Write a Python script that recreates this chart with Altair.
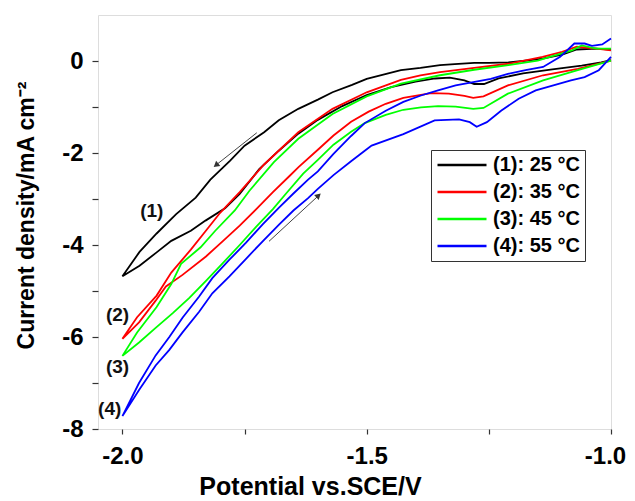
import altair as alt
import pandas as pd

FONT = "Liberation Sans"

series = ["(1): 25 °C", "(2): 35 °C", "(3): 45 °C", "(4): 55 °C"]
colors = ["#000000", "#ff0000", "#00ff00", "#0000ff"]

# (1) 25 °C : scan -1.0 -> -2.0 (upper branch), then back (lower branch)
v1_fwd = [-1.00, -1.03, -1.07, -1.10, -1.14, -1.18, -1.21, -1.25, -1.28, -1.32, -1.35, -1.39, -1.43,
          -1.46, -1.50, -1.53, -1.57, -1.60, -1.64, -1.68, -1.71, -1.75, -1.78, -1.82, -1.85, -1.89,
          -1.93, -1.965, -2.00]
i1_fwd = [0.25, 0.27, 0.25, 0.14, 0.05, 0.00, -0.03, -0.04, -0.04, -0.07, -0.09, -0.15, -0.20,
          -0.28, -0.39, -0.52, -0.68, -0.84, -1.04, -1.29, -1.55, -1.84, -2.17, -2.58, -2.97, -3.33,
          -3.75, -4.15, -4.68]
v1_ret = [-2.00, -1.965, -1.93, -1.90, -1.86, -1.83, -1.79, -1.76, -1.72, -1.68, -1.64, -1.60, -1.55,
          -1.50, -1.45, -1.40, -1.36, -1.33, -1.30, -1.28, -1.26, -1.23, -1.18, -1.12, -1.06, -1.02, -1.00]
i1_ret = [-4.68, -4.45, -4.16, -3.91, -3.69, -3.47, -3.20, -2.89, -2.35, -1.95, -1.58, -1.28, -0.98,
          -0.74, -0.57, -0.45, -0.38, -0.36, -0.42, -0.50, -0.50, -0.38, -0.27, -0.18, -0.10, -0.03, 0.02]

# (2) 35 °C
v2_fwd = [-1.00, -1.03, -1.07, -1.10, -1.14, -1.21, -1.28, -1.35, -1.39, -1.43, -1.50, -1.57, -1.64,
          -1.71, -1.76, -1.80, -1.83, -1.86, -1.90, -1.93, -1.97, -2.00]
i2_fwd = [0.23, 0.27, 0.31, 0.20, 0.09, -0.06, -0.15, -0.24, -0.31, -0.41, -0.68, -1.04, -1.55,
          -2.25, -2.85, -3.30, -3.70, -4.10, -4.60, -5.10, -5.57, -6.04]
v2_ret = [-2.00, -1.966, -1.932, -1.911, -1.877, -1.829, -1.795, -1.760, -1.726, -1.692, -1.658, -1.639,
          -1.60, -1.568, -1.532, -1.496, -1.461, -1.425, -1.368, -1.332, -1.300, -1.282, -1.261, -1.211,
          -1.139, -1.068, -1.00]
i2_ret = [-6.04, -5.68, -5.21, -4.90, -4.65, -4.25, -3.92, -3.58, -3.22, -2.85, -2.50, -2.30,
          -1.93, -1.62, -1.32, -1.10, -0.93, -0.80, -0.70, -0.71, -0.76, -0.80, -0.77, -0.53,
          -0.31, -0.17, 0.01]

# (3) 45 °C
v3_fwd = [-1.00, -1.03, -1.06, -1.08, -1.125, -1.15, -1.21, -1.28, -1.35, -1.43, -1.50, -1.57, -1.64,
          -1.69, -1.74, -1.77, -1.81, -1.84, -1.88, -1.90, -1.93, -1.97, -2.00]
i3_fwd = [0.27, 0.27, 0.34, 0.23, 0.09, 0.01, -0.09, -0.19, -0.31, -0.49, -0.77, -1.15, -1.69,
          -2.20, -2.82, -3.25, -3.69, -4.05, -4.41, -4.85, -5.35, -5.90, -6.41]
v3_ret = [-2.00, -1.966, -1.932, -1.897, -1.863, -1.829, -1.795, -1.760, -1.726, -1.692, -1.665, -1.63,
          -1.60, -1.568, -1.532, -1.504, -1.461, -1.425, -1.389, -1.354, -1.318, -1.282, -1.261, -1.211,
          -1.139, -1.068, -1.00]
i3_ret = [-6.41, -6.12, -5.80, -5.48, -5.15, -4.78, -4.40, -4.00, -3.60, -3.22, -2.88, -2.45,
          -2.15, -1.82, -1.54, -1.35, -1.17, -1.06, -1.01, -0.98, -0.99, -1.04, -1.02, -0.71,
          -0.42, -0.20, 0.01]

# (4) 55 °C
v4_fwd = [-1.00, -1.018, -1.039, -1.054, -1.075, -1.104, -1.139, -1.175, -1.211, -1.246, -1.282, -1.318,
          -1.354, -1.389, -1.425, -1.461, -1.504, -1.532, -1.568, -1.60, -1.62, -1.65, -1.679, -1.713,
          -1.747, -1.781, -1.816, -1.843, -1.877, -1.904, -1.932, -1.966, -2.00]
i4_fwd = [0.49, 0.36, 0.33, 0.38, 0.38, 0.09, -0.13, -0.20, -0.28, -0.39, -0.46, -0.53,
          -0.64, -0.75, -0.89, -1.08, -1.35, -1.63, -2.02, -2.40, -2.58, -2.88, -3.18, -3.55,
          -3.95, -4.32, -4.72, -5.12, -5.58, -6.00, -6.40, -7.00, -7.72]
v4_ret = [-2.00, -1.966, -1.932, -1.904, -1.877, -1.843, -1.816, -1.781, -1.747, -1.713, -1.679, -1.65,
          -1.62, -1.60, -1.568, -1.532, -1.504, -1.49, -1.425, -1.361, -1.311, -1.289, -1.275, -1.254,
          -1.225, -1.189, -1.154, -1.118, -1.082, -1.054, -1.025, -1.00]
i4_ret = [-7.72, -7.15, -6.62, -6.28, -5.90, -5.45, -5.05, -4.68, -4.30, -3.92, -3.55, -3.25,
          -2.98, -2.78, -2.48, -2.18, -1.95, -1.84, -1.59, -1.29, -1.27, -1.33, -1.43, -1.33,
          -1.08, -0.82, -0.64, -0.53, -0.42, -0.35, -0.20, 0.09]

# curve tags and sweep-direction arrows
tag_text = ["(1)", "(2)", "(3)", "(4)"]
tag_v = [-1.94, -2.01, -2.01, -2.026]
tag_i = [-3.25, -5.52, -6.65, -7.56]

arrow_v0 = [-1.725, -1.700]
arrow_i0 = [-1.56, -3.92]
arrow_v1 = [-1.807, -1.600]
arrow_i1 = [-2.25, -2.94]
arrow_angle = [231, 47]

x_values = [-2.0, -1.75, -1.5, -1.25, -1.0]
y_values = [-8, -7, -6, -5, -4, -3, -2, -1, 0]

branches = [
    (v1_fwd + v1_ret, i1_fwd + i1_ret),
    (v2_fwd + v2_ret, i2_fwd + i2_ret),
    (v3_fwd + v3_ret, i3_fwd + i3_ret),
    (v4_fwd + v4_ret, i4_fwd + i4_ret),
]
rows = []
for name, (vs, is_) in zip(series, branches):
    for k, (v, i) in enumerate(zip(vs, is_)):
        rows.append({"series": name, "v": v, "i": i, "k": k})
df = pd.DataFrame(rows)

tags = pd.DataFrame({"t": tag_text, "v": tag_v, "i": tag_i})
arrows = pd.DataFrame({"v0": arrow_v0, "i0": arrow_i0, "v1": arrow_v1, "i1": arrow_i1,
                       "ang": arrow_angle})

xscale = alt.Scale(domain=[-2.05, -1.0], nice=False, zero=False)
yscale = alt.Scale(domain=[-8, 1], nice=False, zero=False)

x_axis = alt.Axis(
    values=x_values,
    labelExpr="datum.value % 0.5 == 0 ? replace(format(datum.value, '.1f'), '\u2212', '-') : ''",
    title="Potential vs.SCE/V",
    grid=False, domain=False, tickSize=5, tickWidth=1.2, tickColor="#333",
    labelFont=FONT, labelFontSize=24, labelFontWeight="bold", labelColor="#000",
    labelPadding=10, labelFlush=False,
    labelOffset={"condition": {"test": "datum.value == -1", "value": -6}, "value": 0},
    titleFont=FONT, titleFontSize=25, titleFontWeight="bold", titleColor="#000",
    titleX=212, titleY=65, titleBaseline="alphabetic", titleAlign="center",
)
y_axis = alt.Axis(
    values=y_values,
    labelExpr="datum.value % 2 == 0 ? '' + datum.value : ''",
    title="Current density/mA cm\u207b\u00b2",
    grid=False, domain=False, tickSize=6, tickWidth=1.2, tickColor="#333",
    labelFont=FONT, labelFontSize=24, labelFontWeight="bold", labelColor="#000",
    labelPadding=9, labelFlush=False,
    titleFont=FONT, titleFontSize=23, titleFontWeight="bold", titleColor="#000",
    titleX=-72, titleY=200, titleBaseline="middle", titleAlign="center", titleAngle=270,
)

lines = alt.Chart(df).mark_line(strokeWidth=1.8).encode(
    x=alt.X("v:Q", scale=xscale, axis=x_axis),
    y=alt.Y("i:Q", scale=yscale, axis=y_axis),
    color=alt.Color(
        "series:N",
        scale=alt.Scale(domain=series, range=colors),
        legend=alt.Legend(
            title=None, orient="none", legendX=333, legendY=135,
            symbolType="stroke", symbolSize=2401, symbolStrokeWidth=2.5,
            labelFont=FONT, labelFontSize=20, labelFontWeight="bold", labelColor="#000",
            labelOffset=5, rowPadding=7, clipHeight=20, padding=5,
            strokeColor="#333", fillColor="white", cornerRadius=0,
        ),
    ),
    detail="series:N",
    order="k:Q",
)

tag_marks = alt.Chart(tags).mark_text(
    font=FONT, fontSize=19, fontWeight="bold", color="#111", align="center", baseline="middle"
).encode(x=alt.X("v:Q", scale=xscale), y=alt.Y("i:Q", scale=yscale), text="t:N")

arrow_lines = alt.Chart(arrows).mark_rule(color="#444", strokeWidth=1).encode(
    x=alt.X("v0:Q", scale=xscale), y=alt.Y("i0:Q", scale=yscale),
    x2="v1:Q", y2="i1:Q",
)
arrow_heads = alt.Chart(arrows).mark_point(
    shape="triangle", filled=True, size=45, color="#333", opacity=1
).encode(
    x=alt.X("v1:Q", scale=xscale), y=alt.Y("i1:Q", scale=yscale),
    angle=alt.Angle("ang:Q", scale=None),
)

chart = alt.layer(lines, arrow_lines, arrow_heads, tag_marks).properties(
    width=513, height=414,
    autosize=alt.AutoSizeParams(type="none"),
    padding={"left": 90, "top": 7, "right": 16, "bottom": 72},
).configure_view(
    stroke="#444", strokeWidth=1.5
).configure_legend(
    strokeWidth=1.8
).configure(background="white")

chart.save("out.html", embed_options={"renderer": "svg", "actions": False})
